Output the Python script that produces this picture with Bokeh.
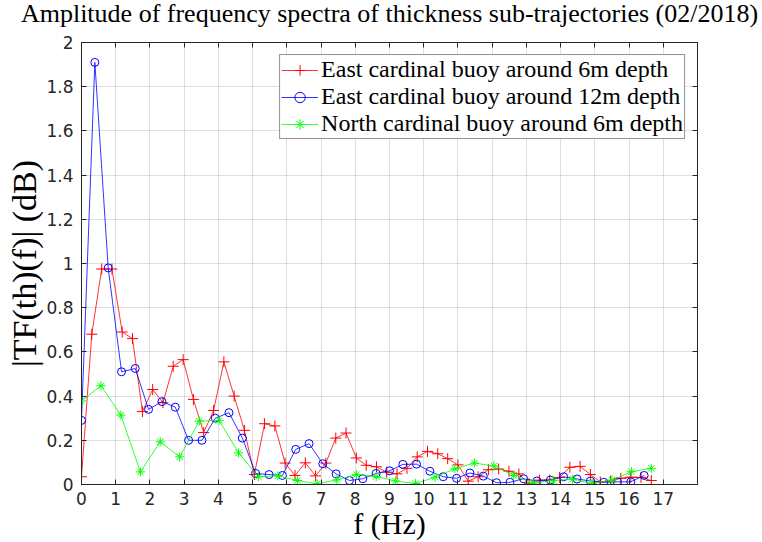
from bokeh.plotting import figure
from bokeh.models import Range1d, FixedTicker, LinearAxis, CustomJSTickFormatter, Title
from bokeh.embed import file_html
from bokeh.resources import INLINE

title_text = "Amplitude of frequency spectra of thickness sub-trajectories (02/2018)"
x_label = "f (Hz)"
y_label = "|TF(th)(f)| (dB)"
series_names = ["East cardinal buoy around 6m depth",
                "East cardinal buoy around 12m depth",
                "North cardinal buoy around 6m depth"]

f_east6 = [0.00, 0.30, 0.59, 0.89, 1.19, 1.49, 1.78, 2.08, 2.38, 2.68, 2.97, 3.27, 3.57, 3.86,
           4.16, 4.46, 4.76, 5.05, 5.35, 5.65, 5.95, 6.24, 6.54, 6.84, 7.14, 7.43, 7.73, 8.03,
           8.32, 8.62, 8.92, 9.22, 9.51, 9.81, 10.11, 10.41, 10.70, 11.00, 11.30, 11.59, 11.89,
           12.19, 12.49, 12.78, 13.08, 13.38, 13.68, 13.97, 14.27, 14.57, 14.87, 15.16, 15.46,
           15.76, 16.05, 16.35, 16.65]
amp_east6 = [0.035, 0.68, 0.975, 0.975, 0.69, 0.66, 0.33, 0.43, 0.37, 0.535, 0.565, 0.385, 0.235,
             0.335, 0.555, 0.40, 0.245, 0.045, 0.275, 0.265, 0.097, 0.041, 0.098, 0.039, 0.097,
             0.21, 0.233, 0.12, 0.087, 0.08, 0.056, 0.048, 0.073, 0.125, 0.15, 0.139, 0.117,
             0.089, 0.015, 0.035, 0.067, 0.07, 0.06, 0.048, 0.003, 0.02, 0.02, 0.032, 0.078,
             0.082, 0.045, 0.012, 0.016, 0.028, 0.033, 0.032, 0.018]

f_east12 = [0.00, 0.39, 0.78, 1.17, 1.57, 1.96, 2.35, 2.74, 3.13, 3.52, 3.91, 4.31, 4.70, 5.09,
            5.48, 5.87, 6.26, 6.65, 7.05, 7.44, 7.83, 8.22, 8.61, 9.00, 9.39, 9.79, 10.18,
            10.57, 10.96, 11.35, 11.74, 12.13, 12.52, 12.92, 13.31, 13.70, 14.09, 14.48, 14.87,
            15.26, 15.66, 16.05, 16.44]
amp_east12 = [0.29, 1.91, 0.98, 0.51, 0.525, 0.34, 0.375, 0.35, 0.20, 0.20, 0.30, 0.325, 0.21,
              0.05, 0.045, 0.041, 0.159, 0.185, 0.094, 0.048, 0.018, 0.026, 0.05, 0.062, 0.091,
              0.092, 0.06, 0.035, 0.028, 0.052, 0.038, 0.008, 0.01, 0.026, 0.016, 0.02, 0.035,
              0.025, 0.016, 0.01, 0.012, 0.012, 0.041]

f_north6 = [0.00, 0.57, 1.15, 1.72, 2.30, 2.87, 3.44, 4.02, 4.59, 5.17, 5.74, 6.31, 6.89, 7.46,
            8.04, 8.61, 9.18, 9.76, 10.33, 10.91, 11.48, 12.05, 12.63, 13.20, 13.78, 14.35,
            14.92, 15.50, 16.07, 16.65]
amp_north6 = [0.378, 0.447, 0.314, 0.057, 0.193, 0.125, 0.287, 0.29, 0.143, 0.035, 0.039, 0.018,
              0.003, 0.021, 0.045, 0.036, 0.016, 0.004, 0.033, 0.071, 0.097, 0.084, 0.041, 0.006,
              0.018, 0.024, 0.005, 0.02, 0.058, 0.073]

x_ticks = [0, 1, 2, 3, 4, 5, 6, 7, 8, 9, 10, 11, 12, 13, 14, 15, 16, 17]
x_tick_labels = ["0", "1", "2", "3", "4", "5", "6", "7", "8", "9", "10", "11", "12", "13",
                 "14", "15", "16", "17"]
y_ticks = [0, 0.2, 0.4, 0.6, 0.8, 1.0, 1.2, 1.4, 1.6, 1.8, 2.0]
y_tick_labels = ["0", "0.2", "0.4", "0.6", "0.8", "1", "1.2", "1.4", "1.6", "1.8", "2"]

AX = "#262626"
SERIF = "Liberation Serif"
SANS = "DejaVu Sans"

p = figure(width=762, height=547, output_backend="svg", toolbar_location=None,
           x_range=Range1d(0, 18), y_range=Range1d(0, 2), margin=(-5, 0, 0, 0),
           min_border_left=81, min_border_right=65, min_border_top=47, min_border_bottom=58)
p.background_fill_color = "white"
p.border_fill_color = "white"
p.outline_line_color = AX
p.outline_line_width = 1


def lab_formatter(ticks, labels):
    return CustomJSTickFormatter(args=dict(t=ticks, l=labels), code="""
        let b = 0;
        for (let i = 0; i < t.length; i++) {
            if (Math.abs(t[i] - tick) < Math.abs(t[b] - tick)) b = i;
        }
        return l[b];
    """)


def style_axis(ax, ticks, labels, show):
    ax.ticker = FixedTicker(ticks=ticks)
    ax.formatter = lab_formatter(ticks, labels)
    ax.axis_line_color = AX
    ax.major_tick_line_color = AX
    ax.major_tick_in = 5
    ax.major_tick_out = 0
    ax.minor_tick_line_color = None
    ax.major_label_text_color = AX
    ax.major_label_text_font = SANS
    if show:
        ax.major_label_text_font_size = "17px"
        ax.major_label_standoff = 7
    else:
        ax.major_label_text_font_size = "0px"
        ax.major_label_standoff = 0
        ax.major_label_text_alpha = 0


def style_label(ax, txt, size, standoff):
    ax.axis_label = txt
    ax.axis_label_text_font = SERIF
    ax.axis_label_text_font_size = size
    ax.axis_label_text_font_style = "normal"
    ax.axis_label_text_color = "black"
    ax.axis_label_standoff = standoff


xb = p.below[0]
yl = p.left[0]
style_axis(xb, x_ticks, x_tick_labels, True)
style_axis(yl, y_ticks, y_tick_labels, True)
yl.major_label_standoff = 8
style_label(yl, y_label, "34px", 0)

xa = LinearAxis()
yr = LinearAxis()
style_axis(xa, x_ticks, x_tick_labels, False)
style_axis(yr, y_ticks, y_tick_labels, False)
style_label(xa, title_text, "26px", 15)
p.add_layout(xa, "above")
p.add_layout(yr, "right")

xtitle = Title(text=x_label, align="center", vertical_align="bottom", standoff=-5,
               text_font=SERIF, text_font_size="30px", text_font_style="normal",
               text_color="black")
p.add_layout(xtitle, "below")

p.xgrid.ticker = FixedTicker(ticks=x_ticks)
p.ygrid.ticker = FixedTicker(ticks=y_ticks)
for g in (p.xgrid, p.ygrid):
    g.grid_line_color = AX
    g.grid_line_alpha = 0.15

series = [
    (f_east6, amp_east6, "#ff0000", "cross", 11),
    (f_east12, amp_east12, "#0000ff", "circle", 8),
    (f_north6, amp_north6, "#00ff00", "asterisk", 9),
]
for (xs, ys, col, mk, sz), name in zip(series, series_names):
    p.line(xs, ys, line_color=col, line_width=1, line_alpha=0.8, legend_label=name)
    if mk == "circle":
        p.scatter(xs, ys, marker=mk, size=sz, line_color=col, fill_color=None,
                  line_width=1, legend_label=name)
    else:
        p.scatter(xs, ys, marker=mk, size=sz, line_color=col, line_width=1, legend_label=name)

lg = p.legend[0]
lg.location = "top_right"
lg.margin = 12
lg.padding = 1
lg.spacing = 0
lg.label_height = 26
lg.glyph_height = 26
lg.glyph_width = 37
lg.label_standoff = 3
lg.label_text_font = SERIF
lg.label_text_font_size = "24px"
lg.label_text_color = "black"
lg.border_line_color = AX
lg.border_line_width = 1
lg.background_fill_color = "white"
lg.background_fill_alpha = 1.0

open("out.html", "w").write(file_html(p, INLINE))
